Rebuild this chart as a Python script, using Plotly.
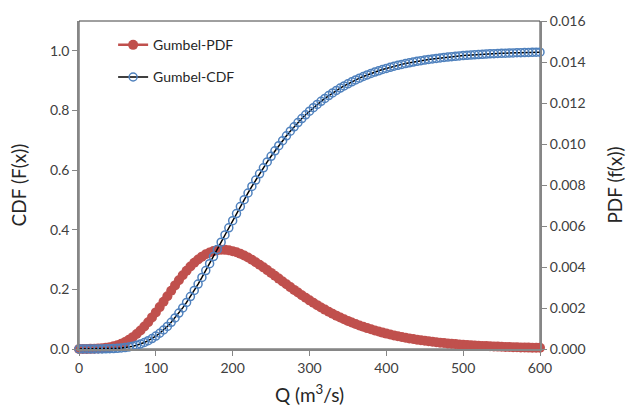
import plotly.graph_objects as go

# Discharge grid (m^3/s)
Q = list(range(0, 601, 5))

# Gumbel cumulative distribution F(x)
CDF = [
    0.0000, 0.0000, 0.0000, 0.0001, 0.0001, 0.0002, 0.0004, 0.0006, 0.0010, 0.0015,
    0.0023, 0.0034, 0.0049, 0.0069, 0.0094, 0.0127, 0.0168, 0.0218, 0.0278, 0.0349, 0.0432,
    0.0528, 0.0637, 0.0758, 0.0894, 0.1043, 0.1204, 0.1378, 0.1563, 0.1759, 0.1965,
    0.2179, 0.2400, 0.2629, 0.2862, 0.3100, 0.3340, 0.3582, 0.3824, 0.4065, 0.4305,
    0.4542, 0.4776, 0.5007, 0.5232, 0.5453, 0.5667, 0.5876, 0.6078, 0.6274, 0.6463,
    0.6645, 0.6820, 0.6988, 0.7149, 0.7304, 0.7451, 0.7593, 0.7727, 0.7855, 0.7976,
    0.8092, 0.8202, 0.8306, 0.8405, 0.8498, 0.8587, 0.8670, 0.8749, 0.8824, 0.8895,
    0.8961, 0.9024, 0.9084, 0.9139, 0.9192, 0.9241, 0.9288, 0.9331, 0.9373, 0.9411,
    0.9448, 0.9482, 0.9514, 0.9545, 0.9573, 0.9599, 0.9624, 0.9648, 0.9670, 0.9690,
    0.9710, 0.9728, 0.9745, 0.9761, 0.9777, 0.9791, 0.9804, 0.9816, 0.9828, 0.9839,
    0.9849, 0.9858, 0.9867, 0.9875, 0.9883, 0.9891, 0.9898, 0.9904, 0.9910, 0.9916,
    0.9921, 0.9926, 0.9931, 0.9935, 0.9939, 0.9943, 0.9947, 0.9950, 0.9953, 0.9956,
]

# Gumbel probability density f(x)
PDF = [
    0.000001, 0.000003, 0.000005, 0.000008, 0.000015, 0.000024, 0.000039, 0.000060, 0.000090, 0.000131,
    0.000185, 0.000255, 0.000343, 0.000450, 0.000579, 0.000731, 0.000903, 0.001097, 0.001309, 0.001541, 0.001786,
    0.002044, 0.002307, 0.002574, 0.002840, 0.003103, 0.003354, 0.003594, 0.003817, 0.004022, 0.004207,
    0.004370, 0.004506, 0.004622, 0.004711, 0.004776, 0.004819, 0.004839, 0.004837, 0.004814, 0.004774,
    0.004716, 0.004643, 0.004558, 0.004460, 0.004352, 0.004235, 0.004112, 0.003982, 0.003849, 0.003712,
    0.003574, 0.003434, 0.003295, 0.003156, 0.003019, 0.002884, 0.002752, 0.002622, 0.002496, 0.002373,
    0.002254, 0.002139, 0.002028, 0.001922, 0.001819, 0.001722, 0.001628, 0.001538, 0.001452, 0.001371,
    0.001293, 0.001220, 0.001149, 0.001083, 0.001019, 0.000960, 0.000903, 0.000850, 0.000799, 0.000751,
    0.000706, 0.000663, 0.000623, 0.000585, 0.000550, 0.000516, 0.000485, 0.000455, 0.000427, 0.000401,
    0.000376, 0.000353, 0.000331, 0.000310, 0.000291, 0.000273, 0.000256, 0.000240, 0.000225, 0.000211,
    0.000198, 0.000185, 0.000174, 0.000163, 0.000152, 0.000143, 0.000134, 0.000125, 0.000117, 0.000110,
    0.000103, 0.000097, 0.000090, 0.000085, 0.000079, 0.000074, 0.000069, 0.000065, 0.000061, 0.000057,
]

X_TICKS = [0, 100, 200, 300, 400, 500, 600]
CDF_TICKS = [0.0, 0.2, 0.4, 0.6, 0.8, 1.0]
PDF_TICKS = [0.000, 0.002, 0.004, 0.006, 0.008, 0.010, 0.012, 0.014, 0.016]

FONT = "Lato"
TXT = "#262626"
AXIS = "#868686"
RED = "#C0504D"
BLUE = "#4F81BD"
TICK_FONT = dict(size=14, color="#404040")
TITLE_FONT = dict(size=19, color=TXT)

fig = go.Figure()

# PDF on the base axis (drawn underneath), right-hand scale
fig.add_trace(go.Scatter(
    x=Q, y=PDF, name="Gumbel-PDF", mode="lines+markers",
    line=dict(color=RED, width=2.5),
    marker=dict(symbol="circle", size=10, color=RED),
    cliponaxis=False, yaxis="y", legend="legend",
))

# CDF on the overlaying axis (drawn on top), left-hand scale
fig.add_trace(go.Scatter(
    x=Q, y=CDF, name="Gumbel-CDF", mode="lines+markers",
    line=dict(color="black", width=1.5),
    marker=dict(symbol="circle-open", size=8, color=BLUE, line=dict(width=1.5, color=BLUE)),
    cliponaxis=False, yaxis="y2", legend="legend2",
))

fig.update_layout(
    width=640, height=418,
    margin=dict(l=79, r=100, t=12, b=69),
    paper_bgcolor="white", plot_bgcolor="white",
    font=dict(family=FONT, size=14, color=TXT),
    showlegend=True,
    xaxis=dict(
        range=[0, 600], tickvals=X_TICKS, ticks="outside", ticklen=5,
        tickcolor=AXIS, showline=True, linecolor=AXIS, linewidth=2,
        showgrid=False, zeroline=False, tickfont=TICK_FONT,
        title=dict(text="Q (m<sup>3</sup>/s)", font=TITLE_FONT, standoff=14),
    ),
    yaxis=dict(
        side="right", range=[0, 0.016], tickvals=PDF_TICKS, tickformat=".3f",
        ticks="outside", ticklen=5, tickcolor=AXIS, showline=True, tickfont=TICK_FONT,
        linecolor=AXIS, linewidth=2, showgrid=False, zeroline=False,
        title=dict(text="PDF (f(x))", font=TITLE_FONT, standoff=24),
    ),
    yaxis2=dict(
        side="left", overlaying="y", range=[0, 1.1], tickvals=CDF_TICKS, tickformat=".1f",
        ticks="outside", ticklen=5, tickcolor=AXIS, showline=True, tickfont=TICK_FONT,
        linecolor=AXIS, linewidth=1.5, showgrid=False, zeroline=False,
        title=dict(text="CDF (F(x))", font=TITLE_FONT, standoff=18),
    ),
    legend=dict(x=0.074, y=0.926, xanchor="left", yanchor="middle",
                bgcolor="rgba(0,0,0,0)", font=dict(size=14, color=TXT)),
    legend2=dict(x=0.074, y=0.828, xanchor="left", yanchor="middle",
                 bgcolor="rgba(0,0,0,0)", font=dict(size=14, color=TXT)),
    shapes=[dict(type="rect", xref="paper", yref="paper", x0=0, x1=1, y0=0, y1=1,
                 line=dict(color="#404040", width=1), layer="below")],
)

fig.write_html("out.html")
